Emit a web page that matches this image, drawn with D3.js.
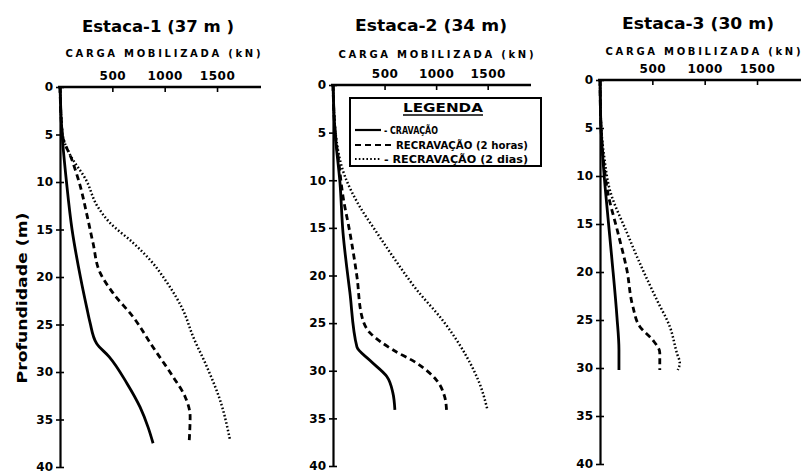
<!DOCTYPE html>
<html>
<head>
<meta charset="utf-8">
<script src="https://cdn.jsdelivr.net/npm/d3@7"></script>
<style>
  body { margin: 0; background: #fff; }
  text { font-family: "DejaVu Sans", sans-serif; font-weight: bold; fill: #000; }
</style>
</head>
<body>
<div id="chart"></div>
<script>
// titles and labels
const pileTitles = ["Estaca-1 (37 m )", "Estaca-2 (34 m)", "Estaca-3 (30 m)"];
const seriesNames = ["- CRAVAÇÃO", "RECRAVAÇÃO (2 horas)", "- RECRAVAÇÃO (2 dias)"];
const xTicks = [500, 1000, 1500];
const yTicks = [0, 5, 10, 15, 20, 25, 30, 35, 40];

// [profundidade (m), carga mobilizada (kN)]
const estaca1Cravacao = [[0,0],[5,20],[10,62],[15,115],[20,195],[23.2,255],[24.8,287],[27,350],[28.4,470],[31.2,640],[33.7,765],[35.8,841],[37.5,889]];
const estaca1Horas = [[0,0],[5,22],[7.7,115],[10.1,185],[13.7,262],[16.4,315],[19.6,385],[21.7,507],[24.2,698],[27.4,889],[30.5,1080],[32.6,1195],[34.7,1243],[37.5,1233]];
const estaca1Dias = [[0,0],[5,25],[7,90],[9.8,250],[12.6,360],[14.3,478],[16.4,698],[18.2,860],[20.6,1023],[23.5,1176],[26.3,1272],[29.5,1405],[33,1530],[37.2,1625]];

const estaca2Cravacao = [[0,0],[5,20],[10.3,68],[15.5,97],[21.8,164],[27.5,232],[28.9,357],[30.6,522],[32.3,580],[34.1,600]];
const estaca2Horas = [[0,0],[5,22],[8,55],[11.7,97],[15.5,164],[20.1,232],[24.3,280],[26,357],[27.8,580],[29.2,812],[31,1005],[32.7,1082],[34.1,1101]];
const estaca2Dias = [[0,0],[5,25],[9.6,116],[12.8,261],[15.5,425],[18,580],[21.5,812],[24.7,1063],[28.5,1295],[31.3,1420],[34.1,1498]];

const estaca3Cravacao = [[0,0],[5,10],[10,40],[14.3,76],[18.7,114],[24.7,162],[28.1,181],[30.2,181]];
const estaca3Horas = [[0,0],[5,10],[8,30],[11.8,76],[15.9,171],[19.8,257],[23.6,314],[25.7,381],[27.1,505],[28.4,571],[30.2,571]];
const estaca3Dias = [[0,0],[5,12],[8,40],[11.5,95],[15.9,257],[19.1,381],[22.9,543],[25.7,667],[28.4,733],[29.5,762],[30.2,743]];

const pileSeries = [
  [estaca1Cravacao, estaca1Horas, estaca1Dias],
  [estaca2Cravacao, estaca2Horas, estaca2Dias],
  [estaca3Cravacao, estaca3Horas, estaca3Dias]
];

// panel layout (pixels of the scanned figure)
var panels = [
  { x0: 60,  y0: 87, x1: 261, y1: 467, titleY: 32, cargaY: 57 },
  { x0: 333, y0: 85, x1: 531, y1: 466, titleY: 31, cargaY: 58 },
  { x0: 600, y0: 80, x1: 801, y1: 464, titleY: 29, cargaY: 55 }
];
var xMax = 1920;

var styles = [
  { width: 2.8, dash: null },
  { width: 2.8, dash: "6,4" },
  { width: 2.5, dash: "1.6,2.2" }
];

var svg = d3.select("#chart")
  .append("svg")
  .attr("width", 801)
  .attr("height", 472);

svg.append("rect").attr("width", 801).attr("height", 472).attr("fill", "#fff");

panels.forEach(function (p, i) {
  var x = d3.scaleLinear().domain([0, xMax]).range([p.x0, p.x1]);
  var y = d3.scaleLinear().domain([0, 40]).range([p.y0, p.y1]);
  var cx = p.x0 + 100;

  // title
  svg.append("text")
    .attr("x", cx - 2).attr("y", p.titleY)
    .attr("text-anchor", "middle")
    .attr("font-size", 15)
    .attr("textLength", 152).attr("lengthAdjust", "spacingAndGlyphs")
    .text(pileTitles[i]);

  svg.append("text")
    .attr("x", p.x0 + 103).attr("y", p.cargaY)
    .attr("text-anchor", "middle")
    .attr("font-size", 10)
    .attr("textLength", 195).attr("lengthAdjust", "spacing")
    .text("CARGA MOBILIZADA (kN)");

  // x axis on top, ticks pointing down
  var xaxis = svg.append("g")
    .attr("transform", `translate(0, ${p.y0})`)
    .call(d3.axisTop(x).tickValues(xTicks).tickFormat(d3.format("d"))
      .tickSizeInner(-5).tickSizeOuter(0).tickPadding(7));
  xaxis.select(".domain").attr("stroke-width", 2.6).attr("d", `M${p.x0 - 2},0H${p.x1}`);
  xaxis.selectAll(".tick line").attr("stroke-width", 1.6);
  xaxis.selectAll(".tick text")
    .attr("font-family", "DejaVu Sans").attr("font-weight", "bold")
    .attr("font-size", 12).attr("letter-spacing", 0.5);

  // y axis
  var yaxis = svg.append("g")
    .attr("transform", `translate(${p.x0}, 0)`)
    .call(d3.axisLeft(y).tickValues(yTicks).tickSizeInner(4).tickSizeOuter(0).tickPadding(3));
  yaxis.select(".domain").attr("stroke-width", 2.2);
  yaxis.selectAll(".tick line").attr("x2", 4).attr("x1", -4).attr("stroke-width", 1.6);
  yaxis.selectAll(".tick text")
    .attr("font-family", "DejaVu Sans").attr("font-weight", "bold")
    .attr("font-size", 12);

  // curves
  var line = d3.line()
    .x(d => x(d[1]))
    .y(d => y(d[0]))
    .curve(d3.curveMonotoneY);

  pileSeries[i].forEach(function (s, j) {
    svg.append("path")
      .datum(s)
      .attr("d", line)
      .attr("fill", "none")
      .attr("stroke", "#000")
      .attr("stroke-width", styles[j].width)
      .attr("stroke-dasharray", styles[j].dash);
  });
});

// y label
svg.append("text")
  .attr("transform", "translate(27, 298) rotate(-90)")
  .attr("text-anchor", "middle")
  .attr("font-size", 14)
  .attr("textLength", 171).attr("lengthAdjust", "spacingAndGlyphs")
  .text("Profundidade (m)");

// legend
var legend = svg.append("g");
legend.append("rect")
  .attr("x", 350).attr("y", 98).attr("width", 191).attr("height", 68)
  .attr("fill", "#fff").attr("stroke", "#000").attr("stroke-width", 2);
legend.append("text")
  .attr("x", 443).attr("y", 112)
  .attr("text-anchor", "middle").attr("font-size", 13)
  .attr("textLength", 80).attr("lengthAdjust", "spacingAndGlyphs")
  .text("LEGENDA");
legend.append("line")
  .attr("x1", 403).attr("x2", 483).attr("y1", 115).attr("y2", 115)
  .attr("stroke", "#000").attr("stroke-width", 1.6);

var rowY = [130, 145, 159];
var sampleEnd = [381, 393, 381];
var textX = [384, 396, 384];
var textW = [54, 132, 144];
seriesNames.forEach(function (name, j) {
  legend.append("line")
    .attr("x1", 355).attr("x2", sampleEnd[j])
    .attr("y1", rowY[j]).attr("y2", rowY[j])
    .attr("stroke", "#000")
    .attr("stroke-width", styles[j].width - 0.6)
    .attr("stroke-dasharray", styles[j].dash);
  legend.append("text")
    .attr("x", textX[j]).attr("y", rowY[j] + 4)
    .attr("font-size", 10)
    .attr("textLength", textW[j]).attr("lengthAdjust", "spacingAndGlyphs")
    .text(name);
});
</script>
</body>
</html>
